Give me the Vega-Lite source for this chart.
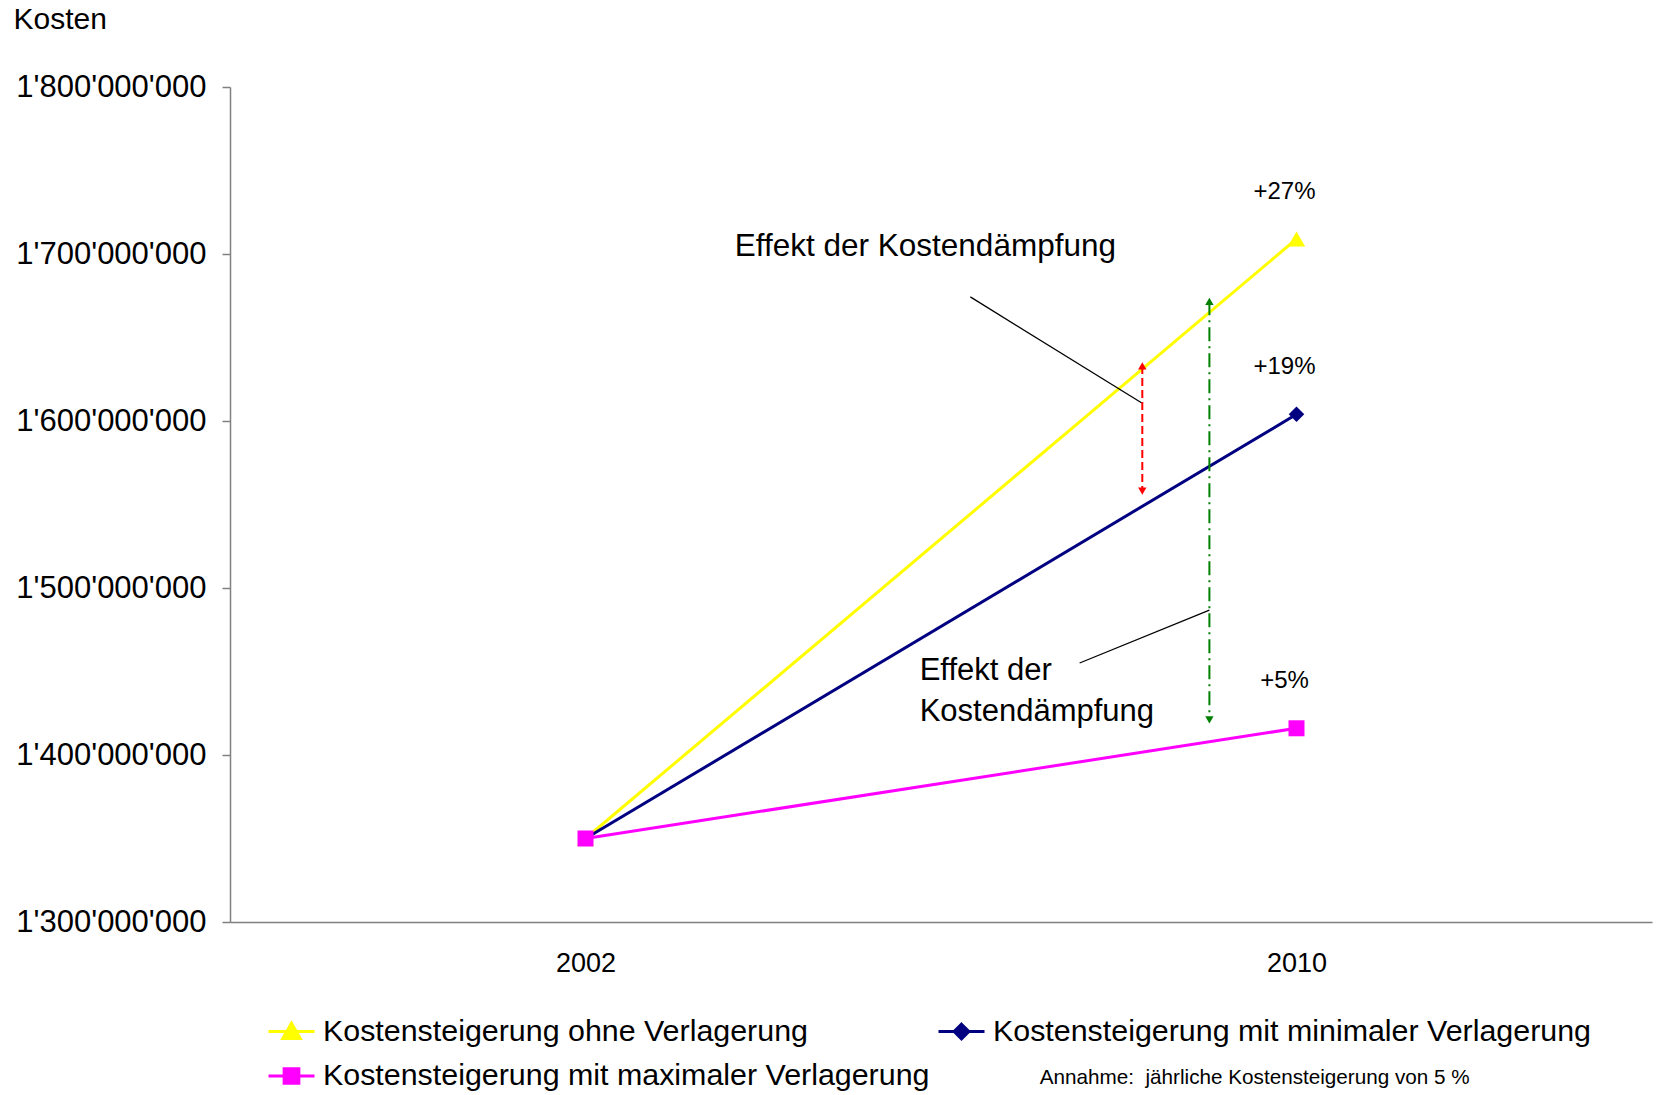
{
  "$schema": "https://vega.github.io/schema/vega-lite/v6.json",
  "width": 1422,
  "height": 835,
  "autosize": {"type": "none"},
  "padding": {"left": 230, "top": 87, "right": 5, "bottom": 173},
  "background": "white",
  "config": {
    "view": {"stroke": null},
    "font": "Liberation Sans",
    "text": {"font": "Liberation Sans", "color": "black"}
  },
  "data": {
    "values": [
      {"Serie": "Kostensteigerung ohne Verlagerung", "Jahr": 2002, "Kosten": 1350000000},
      {"Serie": "Kostensteigerung ohne Verlagerung", "Jahr": 2010, "Kosten": 1709000000, "Label": "+27%"},
      {"Serie": "Kostensteigerung mit minimaler Verlagerung", "Jahr": 2002, "Kosten": 1350000000},
      {"Serie": "Kostensteigerung mit minimaler Verlagerung", "Jahr": 2010, "Kosten": 1604000000, "Label": "+19%"},
      {"Serie": "Kostensteigerung mit maximaler Verlagerung", "Jahr": 2002, "Kosten": 1350000000},
      {"Serie": "Kostensteigerung mit maximaler Verlagerung", "Jahr": 2010, "Kosten": 1416000000, "Label": "+5%"}
    ]
  },
  "layer": [
    {
      "mark": {"type": "line", "strokeWidth": 3},
      "encoding": {
        "x": {
          "field": "Jahr", "type": "quantitative",
          "scale": {"domain": [1998, 2014], "nice": false, "zero": false},
          "axis": {
            "values": [2002, 2010], "format": "d", "title": null, "grid": false,
            "ticks": false, "tickSize": 0, "labelPadding": 28, "labelFontSize": 27,
            "labelColor": "black", "domainColor": "#808080", "domainWidth": 1.5,
            "labelFont": "Liberation Sans"
          }
        },
        "y": {
          "field": "Kosten", "type": "quantitative",
          "scale": {"domain": [1300000000, 1800000000], "nice": false, "zero": false},
          "axis": {
            "values": [1300000000, 1400000000, 1500000000, 1600000000, 1700000000, 1800000000],
            "labelExpr": "replace(format(datum.value, ','), regexp(',', 'g'), \"'\")",
            "grid": false, "tickSize": 8, "tickColor": "#808080", "tickWidth": 1.5,
            "domainColor": "#808080", "domainWidth": 1.5,
            "labelPadding": 16, "labelFontSize": 31, "labelColor": "black", "labelLimit": 500,
            "labelFont": "Liberation Sans",
            "title": "Kosten", "titleAngle": 0, "titleAlign": "left", "titleBaseline": "middle",
            "titleX": -217, "titleY": -68, "titleFontSize": 30, "titleFontWeight": "normal",
            "titleColor": "black", "titleFont": "Liberation Sans"
          }
        },
        "color": {
          "field": "Serie", "type": "nominal",
          "scale": {
            "domain": ["Kostensteigerung ohne Verlagerung", "Kostensteigerung mit minimaler Verlagerung", "Kostensteigerung mit maximaler Verlagerung"],
            "range": ["#FFFF00", "#000080", "#FF00FF"]
          },
          "legend": {
            "orient": "none", "legendX": 37, "legendY": 920,
            "columns": 2, "direction": "horizontal", "title": null,
            "labelFontSize": 30.4, "labelLimit": 2000, "labelColor": "black", "labelFont": "Liberation Sans",
            "symbolSize": 2116, "symbolStrokeWidth": 3, "labelOffset": 7,
            "columnPadding": 2, "rowPadding": 4.5, "padding": 0,
            "encode": {
              "symbols": {
                "update": {
                  "shape": {"signal": "datum.value === 'Kostensteigerung ohne Verlagerung' ? 'M-1,0H1M0,-0.36L0.38,0.3L-0.38,0.3Z' : (datum.value === 'Kostensteigerung mit minimaler Verlagerung' ? 'M-1,0H1M0,-0.32L0.32,0L0,0.32L-0.32,0Z' : 'M-1,0H1M-0.32,-0.32H0.32V0.32H-0.32Z')"},
                  "fill": {"signal": "datum.value === 'Kostensteigerung ohne Verlagerung' ? '#FFFF00' : (datum.value === 'Kostensteigerung mit minimaler Verlagerung' ? '#000080' : '#FF00FF')"},
                  "stroke": {"signal": "datum.value === 'Kostensteigerung ohne Verlagerung' ? '#FFFF00' : (datum.value === 'Kostensteigerung mit minimaler Verlagerung' ? '#000080' : '#FF00FF')"},
                  "strokeWidth": {"value": 3},
                  "opacity": {"value": 1},
                  "fillOpacity": {"value": 1},
                  "strokeOpacity": {"value": 1}
                }
              }
            }
          }
        }
      }
    },
    {
      "transform": [{"filter": "datum.Serie === 'Kostensteigerung ohne Verlagerung'"}],
      "mark": {"type": "point", "shape": "triangle-up", "filled": true, "opacity": 1, "size": 300},
      "encoding": {
        "x": {"field": "Jahr", "type": "quantitative"},
        "y": {"field": "Kosten", "type": "quantitative"},
        "color": {"field": "Serie", "type": "nominal"}
      }
    },
    {
      "transform": [{"filter": "datum.Serie === 'Kostensteigerung mit minimaler Verlagerung'"}],
      "mark": {"type": "point", "shape": "diamond", "filled": true, "opacity": 1, "size": 240},
      "encoding": {
        "x": {"field": "Jahr", "type": "quantitative"},
        "y": {"field": "Kosten", "type": "quantitative"},
        "color": {"field": "Serie", "type": "nominal"}
      }
    },
    {
      "transform": [{"filter": "datum.Serie === 'Kostensteigerung mit maximaler Verlagerung'"}],
      "mark": {"type": "point", "shape": "square", "filled": true, "opacity": 1, "size": 256},
      "encoding": {
        "x": {"field": "Jahr", "type": "quantitative"},
        "y": {"field": "Kosten", "type": "quantitative"},
        "color": {"field": "Serie", "type": "nominal"}
      }
    },
    {
      "transform": [{"filter": "datum.Jahr == 2010"}],
      "mark": {"type": "text", "fontSize": 24, "dx": -12, "dy": -47, "align": "center", "baseline": "middle", "font": "Liberation Sans"},
      "encoding": {
        "x": {"field": "Jahr", "type": "quantitative"},
        "y": {"field": "Kosten", "type": "quantitative"},
        "text": {"field": "Label"}
      }
    },
    {
      "data": {"values": [{}]},
      "mark": {"type": "rule", "color": "black", "strokeWidth": 1.3},
      "encoding": {
        "x": {"datum": 2006.33, "type": "quantitative"},
        "x2": {"datum": 2008.26},
        "y": {"datum": 1674300000, "type": "quantitative"},
        "y2": {"datum": 1610800000}
      }
    },
    {
      "data": {"values": [{}]},
      "mark": {"type": "rule", "color": "black", "strokeWidth": 1.3},
      "encoding": {
        "x": {"datum": 2007.56, "type": "quantitative"},
        "x2": {"datum": 2009.02},
        "y": {"datum": 1455100000, "type": "quantitative"},
        "y2": {"datum": 1486800000}
      }
    },
    {
      "data": {"values": [{}]},
      "mark": {"type": "rule", "color": "#FF0000", "strokeWidth": 2, "strokeDash": [8, 4]},
      "encoding": {
        "x": {"datum": 2008.265, "type": "quantitative"},
        "y": {"datum": 1633000000, "type": "quantitative"},
        "y2": {"datum": 1558000000}
      }
    },
    {
      "data": {"values": [{}]},
      "mark": {"type": "point", "shape": "triangle-up", "filled": true, "opacity": 1, "color": "#FF0000", "size": 70},
      "encoding": {
        "x": {"datum": 2008.265, "type": "quantitative"},
        "y": {"datum": 1633000000, "type": "quantitative"}
      }
    },
    {
      "data": {"values": [{}]},
      "mark": {"type": "point", "shape": "triangle-down", "filled": true, "opacity": 1, "color": "#FF0000", "size": 70},
      "encoding": {
        "x": {"datum": 2008.265, "type": "quantitative"},
        "y": {"datum": 1558000000, "type": "quantitative"}
      }
    },
    {
      "data": {"values": [{}]},
      "mark": {"type": "rule", "color": "#008000", "strokeWidth": 2, "strokeDash": [14, 5, 2, 5]},
      "encoding": {
        "x": {"datum": 2009.02, "type": "quantitative"},
        "y": {"datum": 1671700000, "type": "quantitative"},
        "y2": {"datum": 1421000000}
      }
    },
    {
      "data": {"values": [{}]},
      "mark": {"type": "point", "shape": "triangle-up", "filled": true, "opacity": 1, "color": "#008000", "size": 70},
      "encoding": {
        "x": {"datum": 2009.02, "type": "quantitative"},
        "y": {"datum": 1671700000, "type": "quantitative"}
      }
    },
    {
      "data": {"values": [{}]},
      "mark": {"type": "point", "shape": "triangle-down", "filled": true, "opacity": 1, "color": "#008000", "size": 70},
      "encoding": {
        "x": {"datum": 2009.02, "type": "quantitative"},
        "y": {"datum": 1421000000, "type": "quantitative"}
      }
    },
    {
      "data": {"values": [{}]},
      "mark": {"type": "text", "text": "Effekt der Kostendämpfung", "fontSize": 31.5, "align": "left", "baseline": "middle", "font": "Liberation Sans"},
      "encoding": {
        "x": {"datum": 2003.68, "type": "quantitative"},
        "y": {"datum": 1704200000, "type": "quantitative"}
      }
    },
    {
      "data": {"values": [{}]},
      "mark": {"type": "text", "text": "Effekt der", "fontSize": 31, "align": "left", "baseline": "middle", "font": "Liberation Sans"},
      "encoding": {
        "x": {"datum": 2005.76, "type": "quantitative"},
        "y": {"datum": 1450200000, "type": "quantitative"}
      }
    },
    {
      "data": {"values": [{}]},
      "mark": {"type": "text", "text": "Kostendämpfung", "fontSize": 31, "align": "left", "baseline": "middle", "font": "Liberation Sans"},
      "encoding": {
        "x": {"datum": 2005.76, "type": "quantitative"},
        "y": {"datum": 1426000000, "type": "quantitative"}
      }
    },
    {
      "data": {"values": [{}]},
      "mark": {"type": "text", "text": "Annahme:\u00a0 jährliche Kostensteigerung von 5 %", "fontSize": 20.7, "align": "left", "baseline": "middle", "font": "Liberation Sans"},
      "encoding": {
        "x": {"datum": 2007.11, "type": "quantitative"},
        "y": {"datum": 1206600000, "type": "quantitative"}
      }
    }
  ]
}
